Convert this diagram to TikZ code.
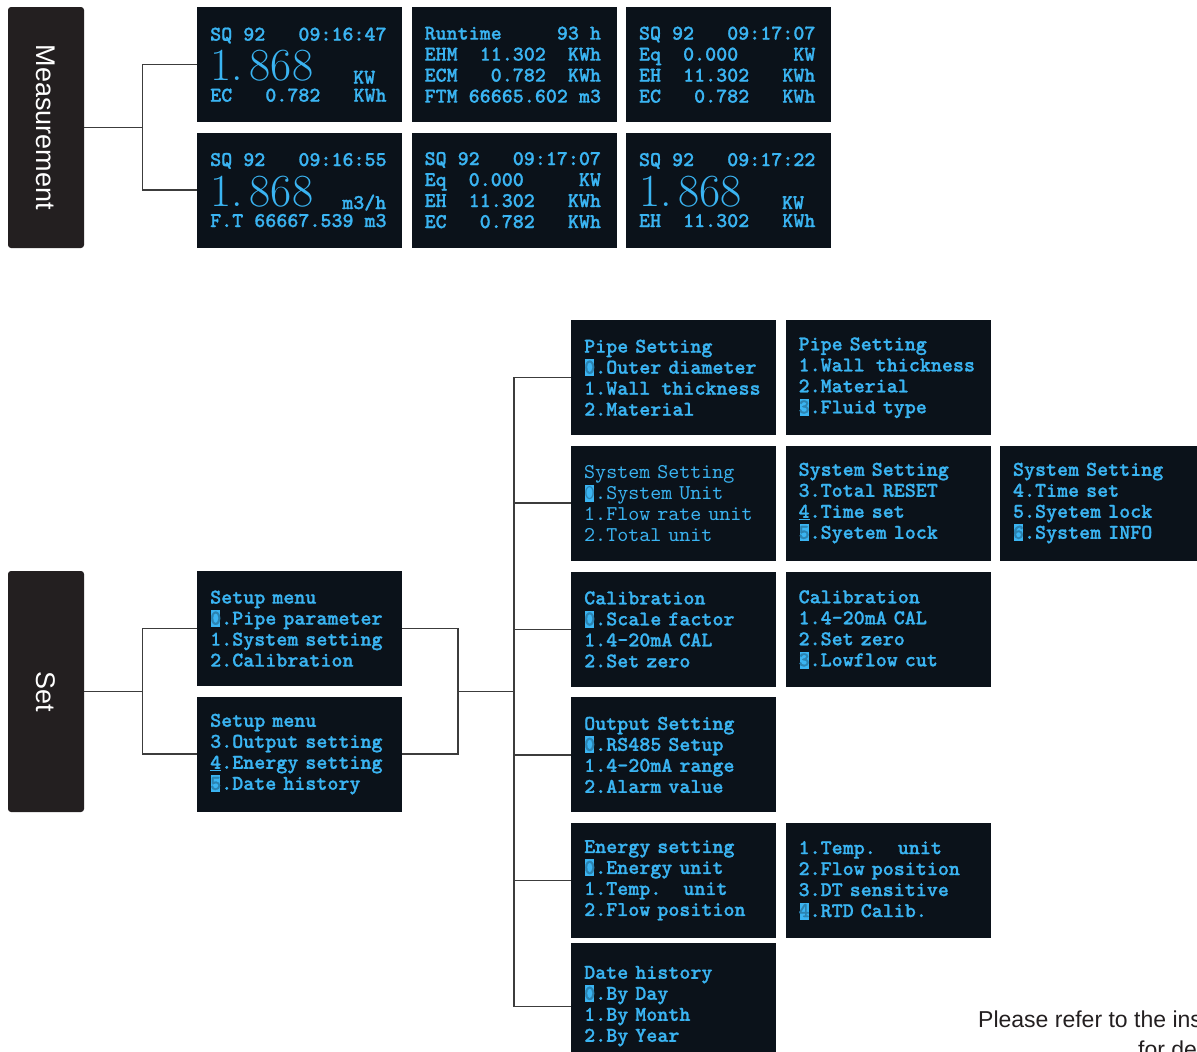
\documentclass[tikz,border=0pt]{standalone}
\usepackage{fontspec}
\usepackage{graphicx}
\usetikzlibrary{positioning}
\newfontfamily\labelfont{Liberation Sans}
\newfontfamily\scrfont{lmmonolt10-bold.otf}[FakeBold=1]
\newfontfamily\scrthinfont{lmmono10-regular.otf}
\definecolor{scrbg}{HTML}{0B121A}
\definecolor{scrfg}{HTML}{3AB4F2}
\definecolor{tagbg}{HTML}{231F20}
\definecolor{wire}{HTML}{3C3C3C}
\frenchspacing
% n blank cells of the display
\newcommand\sk[1]{\hspace*{#1\fontcharwd\font`0}}
% selected item: inverse block over the digit
\newcommand\selno[1]{\makebox[0pt][l]{\hspace{1.2pt}\textcolor{scrfg}{\rule[-2.5pt]{9pt}{17pt}}}\textcolor{scrfg!70!scrbg}{#1}}
% large reading with its unit
\newcommand\bigval[3]{\smash{\makebox[#1][l]{\fontsize{46}{46}\selectfont\rmfamily\mdseries #2}\raisebox{-3pt}{#3}}}
\tikzset{
  screen/.style={fill=scrbg, text=scrfg, minimum width=205pt, minimum height=115pt,
    text width=179pt, inner sep=0pt, align=left,
    font={\scrfont\fontsize{21}{21}\selectfont}},
  thinscreen/.style={screen, font={\scrthinfont\fontsize{21}{21}\selectfont}},
  tag/.style={fill=tagbg, text=white, rounded corners=3pt, inner sep=0pt,
    minimum width=76pt, minimum height=241pt, font=\labelfont\fontsize{27}{27}\selectfont},
}

\begin{document}
\begin{tikzpicture}[x=1pt, y=-1pt]
	\tikzstyle{link}=[draw=wire, line width=1.3pt]
	\tikzstyle{note}=[anchor=base west, inner sep=0pt, text=tagbg, font=\labelfont\fontsize{23}{23}\selectfont]
	\useasboundingbox (0,0) rectangle (1197,1052);
	\clip (0,0) rectangle (1197,1052);

	% measurement
	\node[tag] (meas) at (46,127.5) {\rotatebox{-90}{Measurement}};
	\node[screen, anchor=north west] (m1) at (197,7)
		{SQ\sk{1}92\sk{3}09:16:47\\[19pt]\bigval{143pt}{1.\kern7pt868}{KW}\\EC\sk{3}0.782\sk{3}KWh};
	\node[screen, right=9pt of m1] (m2)
		{Runtime\sk{5}93\sk{1}h\\EHM\sk{2}11.302\sk{2}KWh\\ECM\sk{3}0.782\sk{2}KWh\\FTM\sk{1}66665.602\sk{1}m3};
	\node[screen, right=9pt of m2] (m3)
		{SQ\sk{1}92\sk{3}09:17:07\\Eq\sk{2}0.000\sk{5}KW\\EH\sk{2}11.302\sk{3}KWh\\EC\sk{3}0.782\sk{3}KWh};
	\node[screen, below=10pt of m1] (m4)
		{SQ\sk{1}92\sk{3}09:16:55\\[19pt]\bigval{132pt}{1.\kern7pt868}{m3/h}\\F.T\sk{1}66667.539\sk{1}m3};
	\node[screen, right=9pt of m4] (m5)
		{SQ\sk{1}92\sk{3}09:17:07\\Eq\sk{2}0.000\sk{5}KW\\EH\sk{2}11.302\sk{3}KWh\\EC\sk{3}0.782\sk{3}KWh};
	\node[screen, right=9pt of m5] (m6)
		{SQ\sk{1}92\sk{3}09:17:22\\[19pt]\bigval{143pt}{1.\kern7pt868}{KW}\\EH\sk{2}11.302\sk{3}KWh};

	\draw[link] (meas.east) -- ++(58,0) coordinate (mj);
	\draw[link] (m1.west) -| (mj) |- (m4.west);

	% set menu
	\node[tag] (set) at (46,691.5) {\rotatebox{-90}{Set}};
	\node[screen, anchor=north west] (s1) at (197,571)
		{Setup menu\\\selno{0}.Pipe parameter\\1.System setting\\2.Calibration};
	\node[screen, below=10pt of s1] (s2)
		{Setup menu\\3.Output setting\\\underline{4}.Energy setting\\\selno{5}.Date history};

	\node[screen, anchor=north west] (p1) at (571,320)
		{Pipe Setting\\\selno{0}.Outer diameter\\1.Wall\sk{1}thickness\\2.Material};
	\node[screen, right=9pt of p1] (p2)
		{Pipe Setting\\1.Wall\sk{1}thickness\\2.Material\\\selno{3}.Fluid type};
	\node[thinscreen, below=10pt of p1] (y1)
		{System Setting\\\selno{0}.System Unit\\1.Flow rate unit\\2.Total unit};
	\node[screen, right=9pt of y1] (y2)
		{System Setting\\3.Total RESET\\\underline{4}.Time set\\\selno{5}.Syetem lock};
	\node[screen, right=9pt of y2] (y3)
		{System Setting\\4.Time set\\5.Syetem lock\\\selno{6}.System INFO};
	\node[screen, below=11pt of y1] (c1)
		{Calibration\\\selno{0}.Scale factor\\1.4-20mA CAL\\2.Set zero};
	\node[screen, right=9pt of c1] (c2)
		{Calibration\\1.4-20mA CAL\\2.Set zero\\\selno{3}.Lowflow cut};
	\node[screen, below=10pt of c1] (o1)
		{Output Setting\\\selno{0}.RS485 Setup\\1.4-20mA range\\2.Alarm value};
	\node[screen, below=10pt of o1] (e1)
		{Energy setting\\\selno{0}.Energy unit\\1.Temp.\sk{2}unit\\2.Flow position};
	\node[screen, right=9pt of e1] (e2)
		{1.Temp.\sk{2}unit\\2.Flow position\\3.DT sensitive\\\selno{4}.RTD Calib.};
	\node[screen, minimum height=126pt, below=5pt of e1] (d1)
		{Date history\\\selno{0}.By Day\\1.By Month\\2.By Year};

	\draw[link] (set.east) -- ++(58,0) coordinate (sj);
	\draw[link] (s1.west) -| (sj) |- (s2.west);
	\coordinate (tj) at (458,691.5);
	\coordinate (uj) at (514,691.5);
	\draw[link] (s1.east) -| (tj) |- (s2.east);
	\draw[link] (tj) -- (uj);
	\draw[link] (p1.west) -| (uj) |- (d1.west);
	\foreach \n in {y1,c1,o1,e1}
		\draw[link] (\n.west) -- (\n.west -| uj);

	\node[note] (note1) at (978,1027) {Please refer to the ins};
	\node[note] (note2) at (1138,1057) {for de};
\end{tikzpicture}
\end{document}
